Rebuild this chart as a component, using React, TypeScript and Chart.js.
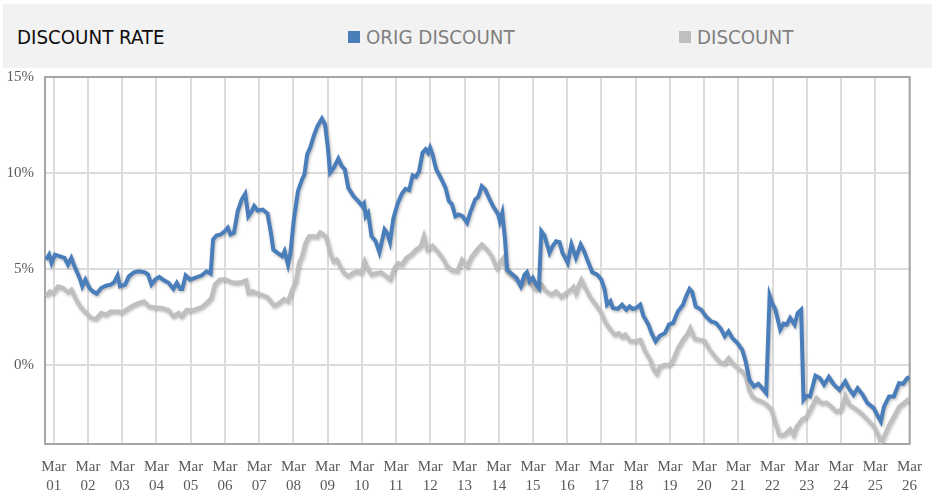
import React, { useEffect, useRef } from 'react';
import { Chart, registerables } from 'chart.js';

Chart.register(...registerables);

// Tick labels for the x axis (March of each year, two-digit year)
const xTickYears = ['01', '02', '03', '04', '05', '06', '07', '08', '09', '10', '11', '12', '13',
  '14', '15', '16', '17', '18', '19', '20', '21', '22', '23', '24', '25', '26'];
const yTickValues = [0, 5, 10, 15];

// [decimal year, rate %]
const origDiscount: [number, number][] = [
  [2000.94, 5.48], [2001.03, 5.74], [2001.10, 5.31], [2001.20, 5.74], [2001.39, 5.62], [2001.48, 5.57],
  [2001.58, 5.22], [2001.68, 5.57], [2001.77, 5.13], [2001.92, 4.53], [2002.00, 4.09], [2002.09, 4.44],
  [2002.21, 4.0], [2002.30, 3.83], [2002.42, 3.71], [2002.55, 4.0], [2002.69, 4.12], [2002.83, 4.18],
  [2002.93, 4.3], [2003.03, 4.66], [2003.10, 4.09], [2003.25, 4.18], [2003.36, 4.61], [2003.51, 4.82],
  [2003.65, 4.87], [2003.83, 4.82], [2003.92, 4.70], [2004.02, 4.18], [2004.13, 4.44], [2004.25, 4.58],
  [2004.38, 4.40], [2004.52, 4.27], [2004.66, 3.95], [2004.76, 4.27], [2004.86, 3.95], [2004.92, 3.95],
  [2005.02, 4.65], [2005.15, 4.44], [2005.29, 4.53], [2005.48, 4.65], [2005.63, 4.87], [2005.75, 4.75],
  [2005.82, 6.53], [2005.92, 6.74], [2006.04, 6.79], [2006.16, 6.96], [2006.25, 7.14], [2006.33, 6.79],
  [2006.43, 6.88], [2006.54, 8.0], [2006.66, 8.62], [2006.76, 8.91], [2006.85, 7.74], [2006.95, 8.0],
  [2007.02, 8.27], [2007.12, 8.04], [2007.27, 8.09], [2007.41, 7.88], [2007.51, 6.88], [2007.58, 6.0],
  [2007.70, 5.83], [2007.84, 5.66], [2007.91, 5.92], [2008.01, 5.22], [2008.08, 5.83], [2008.18, 7.57],
  [2008.30, 9.05], [2008.42, 9.66], [2008.49, 9.92], [2008.57, 10.97], [2008.66, 11.32], [2008.76, 11.92],
  [2008.87, 12.44], [2009.00, 12.83], [2009.09, 12.53], [2009.17, 11.4], [2009.24, 10.01], [2009.35, 10.27],
  [2009.48, 10.74], [2009.58, 10.36], [2009.67, 10.18], [2009.77, 9.23], [2009.92, 8.79], [2010.06, 8.53],
  [2010.18, 8.27], [2010.23, 8.4], [2010.28, 7.74], [2010.35, 7.92], [2010.45, 6.70], [2010.57, 6.44],
  [2010.68, 5.86], [2010.83, 7.05], [2010.90, 6.88], [2010.99, 6.39], [2011.09, 7.66], [2011.22, 8.44],
  [2011.34, 8.93], [2011.44, 9.17], [2011.55, 9.10], [2011.65, 9.87], [2011.75, 9.80], [2011.84, 10.09],
  [2011.94, 11.05], [2012.03, 11.23], [2012.10, 11.05], [2012.16, 11.32], [2012.23, 10.97], [2012.34, 10.18],
  [2012.47, 9.75], [2012.61, 9.23], [2012.71, 8.53], [2012.80, 8.36], [2012.90, 7.74], [2013.00, 7.83],
  [2013.11, 7.74], [2013.24, 7.40], [2013.33, 7.92], [2013.48, 8.62], [2013.57, 8.75], [2013.67, 9.31],
  [2013.77, 9.14], [2013.88, 8.70], [2014.01, 8.23], [2014.15, 7.83], [2014.20, 7.48], [2014.27, 7.92],
  [2014.35, 6.53], [2014.41, 4.96], [2014.54, 4.75], [2014.68, 4.53], [2014.81, 4.09], [2014.92, 4.70],
  [2014.99, 4.82], [2015.07, 4.35], [2015.16, 4.53], [2015.26, 4.18], [2015.34, 4.0], [2015.41, 6.96],
  [2015.50, 6.74], [2015.65, 5.83], [2015.74, 6.18], [2015.84, 6.44], [2015.94, 6.39], [2016.03, 5.83],
  [2016.18, 5.31], [2016.29, 6.27], [2016.42, 5.57], [2016.56, 6.27], [2016.66, 5.92], [2016.77, 5.39],
  [2016.90, 4.82], [2017.04, 4.70], [2017.16, 4.44], [2017.26, 3.92], [2017.33, 3.13], [2017.43, 3.31],
  [2017.50, 2.96], [2017.64, 2.91], [2017.77, 3.13], [2017.89, 2.87], [2017.99, 3.04], [2018.08, 2.91],
  [2018.18, 2.96], [2018.30, 3.13], [2018.39, 2.56], [2018.54, 2.09], [2018.63, 1.65], [2018.75, 1.22],
  [2018.87, 1.51], [2019.02, 1.65], [2019.14, 2.09], [2019.26, 2.18], [2019.40, 2.78], [2019.55, 3.13],
  [2019.64, 3.57], [2019.74, 3.95], [2019.82, 3.78], [2019.92, 3.04], [2020.08, 2.87], [2020.22, 2.52],
  [2020.37, 2.26], [2020.51, 2.18], [2020.66, 1.86], [2020.77, 1.48], [2020.88, 1.74], [2020.99, 1.39],
  [2021.14, 1.13], [2021.28, 0.78], [2021.38, 0.17], [2021.49, -0.78], [2021.62, -1.13], [2021.75, -0.99],
  [2021.86, -1.22], [2021.98, -1.48], [2022.08, 3.60], [2022.15, 3.22], [2022.25, 2.87], [2022.39, 1.83],
  [2022.49, 2.14], [2022.58, 2.09], [2022.68, 2.44], [2022.81, 2.09], [2022.90, 2.70], [2023.00, 2.87],
  [2023.07, -1.83], [2023.16, -1.62], [2023.26, -1.65], [2023.42, -0.57], [2023.55, -0.70], [2023.67, -1.04],
  [2023.81, -0.64], [2023.96, -1.04], [2024.12, -1.31], [2024.29, -0.87], [2024.41, -1.27], [2024.53, -1.57],
  [2024.65, -1.22], [2024.80, -1.57], [2024.94, -2.0], [2025.12, -2.26], [2025.25, -2.70], [2025.33, -2.96],
  [2025.42, -2.18], [2025.57, -1.65], [2025.71, -1.65], [2025.86, -0.96], [2025.98, -0.99], [2026.10, -0.70],
  [2026.17, -0.64],
];

const discount: [number, number][] = [
  [2000.94, 3.57], [2001.05, 3.83], [2001.15, 3.74], [2001.29, 4.09], [2001.44, 4.0], [2001.58, 3.78],
  [2001.68, 3.92], [2001.82, 3.39], [2001.97, 2.96], [2002.11, 2.70], [2002.26, 2.44], [2002.40, 2.39],
  [2002.55, 2.70], [2002.69, 2.61], [2002.83, 2.78], [2003.03, 2.78], [2003.17, 2.73], [2003.31, 2.91],
  [2003.51, 3.13], [2003.65, 3.22], [2003.80, 3.31], [2003.94, 3.04], [2004.13, 2.99], [2004.33, 2.96],
  [2004.52, 2.84], [2004.66, 2.52], [2004.81, 2.70], [2004.90, 2.52], [2005.05, 2.87], [2005.19, 2.82],
  [2005.34, 2.91], [2005.48, 3.01], [2005.63, 3.22], [2005.77, 3.48], [2005.87, 4.18], [2006.01, 4.44],
  [2006.16, 4.47], [2006.30, 4.35], [2006.45, 4.27], [2006.64, 4.30], [2006.78, 4.40], [2006.85, 3.74],
  [2006.98, 3.83], [2007.07, 3.74], [2007.22, 3.66], [2007.41, 3.52], [2007.60, 3.08], [2007.75, 3.22],
  [2007.89, 3.43], [2008.01, 3.31], [2008.13, 3.92], [2008.23, 4.30], [2008.33, 5.31], [2008.42, 5.66],
  [2008.52, 6.36], [2008.62, 6.70], [2008.76, 6.70], [2008.86, 6.67], [2008.95, 6.91], [2009.05, 6.79],
  [2009.14, 6.56], [2009.24, 5.83], [2009.34, 5.39], [2009.43, 5.48], [2009.53, 5.13], [2009.64, 4.79],
  [2009.77, 4.61], [2009.90, 4.79], [2010.01, 4.87], [2010.16, 4.79], [2010.25, 5.39], [2010.35, 4.96],
  [2010.45, 4.70], [2010.59, 4.79], [2010.73, 4.82], [2010.88, 4.61], [2010.99, 4.44], [2011.12, 5.05],
  [2011.22, 5.31], [2011.34, 5.22], [2011.46, 5.57], [2011.60, 5.74], [2011.75, 6.0], [2011.89, 6.18],
  [2011.98, 6.70], [2012.08, 6.0], [2012.23, 6.21], [2012.37, 5.92], [2012.52, 5.57], [2012.66, 5.13],
  [2012.80, 4.92], [2012.95, 4.87], [2013.09, 5.48], [2013.24, 5.13], [2013.38, 5.66], [2013.53, 6.0],
  [2013.67, 6.27], [2013.82, 6.0], [2013.96, 5.66], [2014.11, 5.05], [2014.20, 5.31], [2014.30, 5.57],
  [2014.40, 4.87], [2014.54, 4.65], [2014.68, 4.44], [2014.83, 4.18], [2014.97, 4.44], [2015.12, 4.18],
  [2015.26, 3.92], [2015.41, 4.18], [2015.55, 3.83], [2015.70, 3.66], [2015.84, 3.83], [2015.99, 3.53],
  [2016.13, 3.74], [2016.27, 3.92], [2016.35, 4.06], [2016.42, 3.74], [2016.51, 4.18], [2016.58, 4.44],
  [2016.71, 3.95], [2016.85, 3.48], [2017.00, 3.13], [2017.14, 2.78], [2017.29, 2.18], [2017.43, 1.83],
  [2017.55, 1.57], [2017.67, 1.65], [2017.77, 1.45], [2017.86, 1.57], [2018.01, 1.22], [2018.15, 1.22],
  [2018.30, 1.31], [2018.44, 0.70], [2018.59, 0.26], [2018.68, -0.22], [2018.78, -0.47], [2018.87, -0.09],
  [2019.02, 0.0], [2019.16, 0.0], [2019.26, 0.26], [2019.40, 0.87], [2019.55, 1.31], [2019.69, 1.65],
  [2019.76, 1.92], [2019.89, 1.35], [2020.03, 1.31], [2020.18, 1.24], [2020.32, 0.80], [2020.47, 0.45],
  [2020.61, 0.17], [2020.75, 0.05], [2020.88, 0.35], [2020.99, 0.09], [2021.14, -0.17], [2021.28, -0.35],
  [2021.38, -0.61], [2021.48, -1.31], [2021.57, -1.65], [2021.72, -1.83], [2021.86, -1.92], [2022.00, -2.09],
  [2022.13, -2.35], [2022.25, -3.05], [2022.36, -3.66], [2022.49, -3.66], [2022.58, -3.53], [2022.68, -3.36],
  [2022.78, -3.66], [2022.87, -3.22], [2023.02, -2.87], [2023.16, -2.70], [2023.31, -2.18], [2023.45, -1.74],
  [2023.59, -2.0], [2023.74, -1.97], [2023.88, -2.18], [2024.03, -2.44], [2024.17, -2.35], [2024.29, -1.62],
  [2024.41, -2.09], [2024.56, -2.26], [2024.70, -2.44], [2024.85, -2.70], [2024.99, -2.96], [2025.13, -3.22],
  [2025.25, -3.66], [2025.33, -4.09], [2025.42, -3.74], [2025.57, -3.13], [2025.71, -2.70], [2025.86, -2.18],
  [2026.00, -2.0], [2026.17, -1.74],
];

const BLUE = '#4a7ebb';
const GREY = '#bfbfbf';
const SERIF = '"Liberation Serif", "Times New Roman", serif';
const NARROW = '"Liberation Sans Narrow", "DejaVu Sans Condensed", "Arial Narrow", sans-serif';

const boxPlugin = {
  id: 'plotBox',
  beforeDatasetsDraw(chart: any) {
    const { ctx, chartArea: a } = chart;
    ctx.save();
    ctx.strokeStyle = '#a6a6a6';
    ctx.lineWidth = 2;
    ctx.strokeRect(a.left, a.top, a.right - a.left, a.bottom - a.top);
    ctx.restore();
  },
  beforeDatasetDraw(chart: any) {
    const ctx = chart.ctx;
    ctx.save();
    ctx.shadowColor = 'rgba(0,0,0,0.28)';
    ctx.shadowBlur = 3;
    ctx.shadowOffsetX = 1;
    ctx.shadowOffsetY = 1.5;
  },
  afterDatasetDraw(chart: any) {
    chart.ctx.restore();
  },
};

export default function App() {
  const ref = useRef<HTMLCanvasElement | null>(null);

  useEffect(() => {
    if (!ref.current) return;
    const chart = new Chart(ref.current, {
      type: 'line',
      data: {
        datasets: [
          {
            label: 'ORIG DISCOUNT',
            data: origDiscount.map(([x, y]) => ({ x, y })),
            borderColor: BLUE,
            borderWidth: 4,
            pointRadius: 0,
            tension: 0,
            fill: false,
          },
          {
            label: 'DISCOUNT',
            data: discount.map(([x, y]) => ({ x, y })),
            borderColor: GREY,
            borderWidth: 4,
            pointRadius: 0,
            tension: 0,
            fill: false,
          },
        ],
      },
      options: {
        animation: false,
        responsive: false,
        events: [],
        layout: { padding: { left: 0, top: 77, right: 16, bottom: 0 } },
        plugins: { legend: { display: false }, tooltip: { enabled: false }, title: { display: false } },
        scales: {
          x: {
            type: 'linear',
            min: 2000.91,
            max: 2026.17,
            afterBuildTicks: (scale: any) => {
              scale.ticks = xTickYears.map((yy) => ({ value: 2000 + Number(yy) + 2 / 12 }));
            },
            afterFit: (scale: any) => {
              scale.height = 47;
            },
            ticks: {
              autoSkip: false,
              maxRotation: 0,
              minRotation: 0,
              padding: 13,
              color: '#595959',
              font: { family: SERIF, size: 15, lineHeight: 1.3 },
              callback: (_v: any, i: number) => ['Mar', xTickYears[i]],
            },
            grid: { color: '#dcdcdc', lineWidth: 2, drawTicks: false },
            border: { display: false },
          },
          y: {
            type: 'linear',
            min: -4.13,
            max: 15,
            afterBuildTicks: (scale: any) => {
              scale.ticks = yTickValues.map((v) => ({ value: v }));
            },
            afterFit: (scale: any) => {
              scale.width = 45;
            },
            ticks: {
              padding: 11,
              color: '#595959',
              font: { family: SERIF, size: 15 },
              callback: (v: any) => `${v}%`,
            },
            grid: { color: '#dcdcdc', lineWidth: 2, drawTicks: false },
            border: { display: false },
          },
        },
      },
      plugins: [boxPlugin],
    } as any);
    return () => chart.destroy();
  }, []);

  const headerText: React.CSSProperties = {
    position: 'absolute',
    fontFamily: NARROW,
    fontSize: 20.3,
    lineHeight: '20.3px',
    top: 27,
    whiteSpace: 'nowrap',
  };

  return (
    <div style={{ position: 'absolute', left: 0, top: 0, width: 935, height: 491, background: '#ffffff', overflow: 'hidden' }}>
      <div style={{ position: 'absolute', left: 3, top: 4, width: 929, height: 64, background: '#f2f2f2' }} />
      <div style={{ ...headerText, left: 17, color: '#0d0d0d' }}>DISCOUNT RATE</div>
      <div style={{ position: 'absolute', left: 348, top: 31, width: 12, height: 12, background: BLUE }} />
      <div style={{ ...headerText, left: 366, color: '#7f7f7f' }}>ORIG DISCOUNT</div>
      <div style={{ position: 'absolute', left: 679, top: 31, width: 12, height: 12, background: GREY }} />
      <div style={{ ...headerText, left: 697, color: '#7f7f7f' }}>DISCOUNT</div>
      <canvas ref={ref} width={935} height={491} style={{ position: 'absolute', left: 0, top: 0 }} />
    </div>
  );
}
